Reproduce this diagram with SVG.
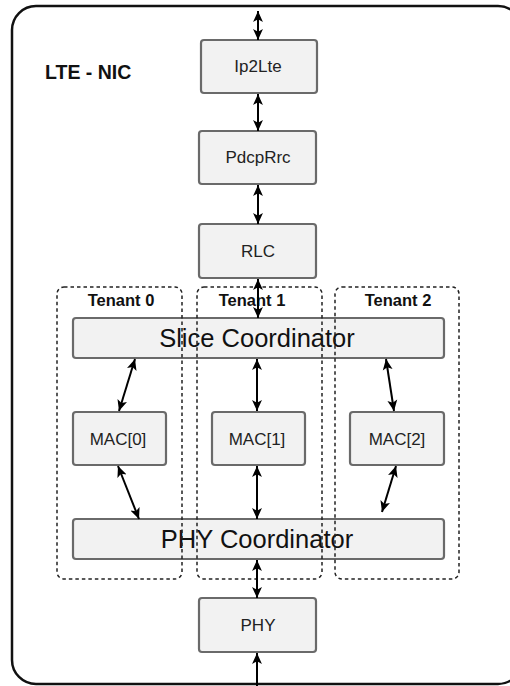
<svg xmlns="http://www.w3.org/2000/svg" width="510" height="686" viewBox="0 0 510 686">
<defs>
<marker id="ah" viewBox="0 0 10 10" refX="10" refY="5" markerWidth="11" markerHeight="11" markerUnits="userSpaceOnUse" orient="auto-start-reverse">
<path d="M0,0.5 L10,5 L0,9.5 L2.5,5 z" fill="#000"/>
</marker>
</defs>
<style>
.box{fill:#f2f2f2;stroke:#6a6a6a;stroke-width:2.2}
.lbl{font-family:"Liberation Sans",Arial,sans-serif;font-size:17px;fill:#222;text-anchor:middle}
.big{font-family:"Liberation Sans",Arial,sans-serif;font-size:25.5px;fill:#111;text-anchor:middle}
.ten{font-family:"Liberation Sans",Arial,sans-serif;font-size:16.5px;font-weight:bold;fill:#111;text-anchor:middle}
.dash{fill:none;stroke:#222;stroke-width:1.5;stroke-dasharray:3.5,3}
.c{stroke:#000;stroke-width:2;fill:none}
</style>
<rect width="510" height="686" fill="#fff"/>
<g id="outer">
<rect x="12" y="6" width="510" height="678" rx="24" fill="none" stroke="#111" stroke-width="2.5"/>
<text x="45" y="79" font-family="Liberation Sans,Arial,sans-serif" font-size="19.5" font-weight="bold" fill="#111">LTE - NIC</text>
</g>
<g id="ip2lte"><rect class="box" x="201" y="40" width="116" height="53" rx="3"/><text class="lbl" x="258" y="72">Ip2Lte</text></g>
<g id="pdcprrc"><rect class="box" x="199" y="131" width="117" height="53" rx="3"/><text class="lbl" x="258" y="163">PdcpRrc</text></g>
<g id="rlc"><rect class="box" x="199" y="224" width="117" height="54" rx="3"/><text class="lbl" x="258" y="257">RLC</text></g>
<g id="slice"><rect class="box" x="73" y="318" width="371" height="40" rx="3"/><text class="big" x="257" y="347">Slice Coordinator</text></g>
<g id="mac0"><rect class="box" x="73" y="412" width="93" height="53" rx="3"/><text class="lbl" x="118" y="445">MAC[0]</text></g>
<g id="mac1"><rect class="box" x="212" y="412" width="93" height="53" rx="3"/><text class="lbl" x="257" y="445">MAC[1]</text></g>
<g id="mac2"><rect class="box" x="350" y="412" width="94" height="53" rx="3"/><text class="lbl" x="397" y="445">MAC[2]</text></g>
<g id="phycoord"><rect class="box" x="73" y="519" width="371" height="40" rx="3"/><text class="big" x="257" y="548">PHY Coordinator</text></g>
<g id="phy"><rect class="box" x="199" y="598" width="117" height="54" rx="3"/><text class="lbl" x="258" y="631">PHY</text></g>
<g id="tenant0"><rect class="dash" x="57" y="287" width="125" height="292" rx="7"/><text class="ten" x="121" y="306">Tenant 0</text></g>
<g id="tenant1"><rect class="dash" x="197" y="287" width="125" height="292" rx="7"/><text class="ten" x="252" y="306">Tenant 1</text></g>
<g id="tenant2"><rect class="dash" x="335" y="287" width="124" height="292" rx="7"/><text class="ten" x="398" y="306">Tenant 2</text></g>
<g id="connectors">
<line class="c" x1="258" y1="11" x2="258" y2="40" marker-start="url(#ah)" marker-end="url(#ah)"/>
<line class="c" x1="258" y1="94" x2="258" y2="131" marker-start="url(#ah)" marker-end="url(#ah)"/>
<line class="c" x1="258" y1="185" x2="258" y2="224" marker-start="url(#ah)" marker-end="url(#ah)"/>
<line class="c" x1="258" y1="279" x2="258" y2="318" marker-start="url(#ah)" marker-end="url(#ah)"/>
<line class="c" x1="135" y1="359" x2="119" y2="411" marker-start="url(#ah)" marker-end="url(#ah)"/>
<line class="c" x1="257" y1="359" x2="257" y2="411" marker-start="url(#ah)" marker-end="url(#ah)"/>
<line class="c" x1="386" y1="359" x2="394" y2="411" marker-start="url(#ah)" marker-end="url(#ah)"/>
<line class="c" x1="118" y1="466" x2="139" y2="519" marker-start="url(#ah)" marker-end="url(#ah)"/>
<line class="c" x1="257" y1="466" x2="257" y2="519" marker-start="url(#ah)" marker-end="url(#ah)"/>
<line class="c" x1="396" y1="466" x2="382" y2="512" marker-start="url(#ah)" marker-end="url(#ah)"/>
<line class="c" x1="257" y1="560" x2="257" y2="598" marker-start="url(#ah)" marker-end="url(#ah)"/>
<line class="c" x1="257" y1="686" x2="257" y2="653" marker-end="url(#ah)"/>
</g>
</svg>
